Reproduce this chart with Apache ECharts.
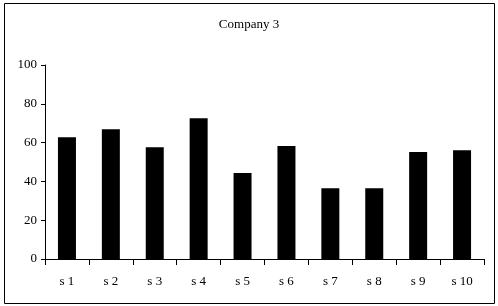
<!DOCTYPE html>
<html><head><meta charset="utf-8">
<script src="https://cdn.jsdelivr.net/npm/echarts@6/dist/echarts.min.js"></script>
<style>html,body{margin:0;padding:0;background:#fff}#c{width:498px;height:306px}</style>
</head><body><div id="c"></div>
<script>
const categories = ['s 1','s 2','s 3','s 4','s 5','s 6','s 7','s 8','s 9','s 10'];
const values = [62.8, 66.9, 57.6, 72.6, 44.3, 58.2, 36.5, 36.5, 55.1, 56.1];
const yTicks = [0, 20, 40, 60, 80, 100];
const titleText = 'Company 3';

const chart = echarts.init(document.getElementById('c'), null, {renderer:'canvas'});
const font = 'Liberation Serif';
chart.setOption({
  animation: false,
  backgroundColor: '#fff',
  title: { text: titleText, left: 'center', top: 13,
    textStyle: { fontFamily: font, fontSize: 13, fontWeight: 'normal', color: '#000' } },
  graphic: [{ type: 'rect', shape: { x: 4.5, y: 3.5, width: 490, height: 300 },
    style: { fill: 'none', stroke: '#000', lineWidth: 1 }, silent: true }],
  grid: { left: 45, right: 14, top: 65, bottom: 47, containLabel: false },
  xAxis: { type: 'category', data: categories,
    axisLine: { lineStyle: { color: '#000', width: 1 } },
    axisTick: { show: true, length: 6, alignWithLabel: false, lineStyle: { color: '#000' } },
    axisLabel: { fontFamily: font, fontSize: 13, color: '#000', margin: 16 } },
  yAxis: { type: 'value', min: yTicks[0], max: yTicks[yTicks.length-1], interval: 20,
    splitLine: { show: false },
    axisLine: { show: true, lineStyle: { color: '#000', width: 1 } },
    axisTick: { show: true, length: 4, lineStyle: { color: '#000' } },
    axisLabel: { fontFamily: font, fontSize: 13, color: '#000', margin: 8 } },
  series: [{ type: 'bar', data: values, barWidth: 18,
    itemStyle: { color: '#000' } }]
});
</script></body></html>
